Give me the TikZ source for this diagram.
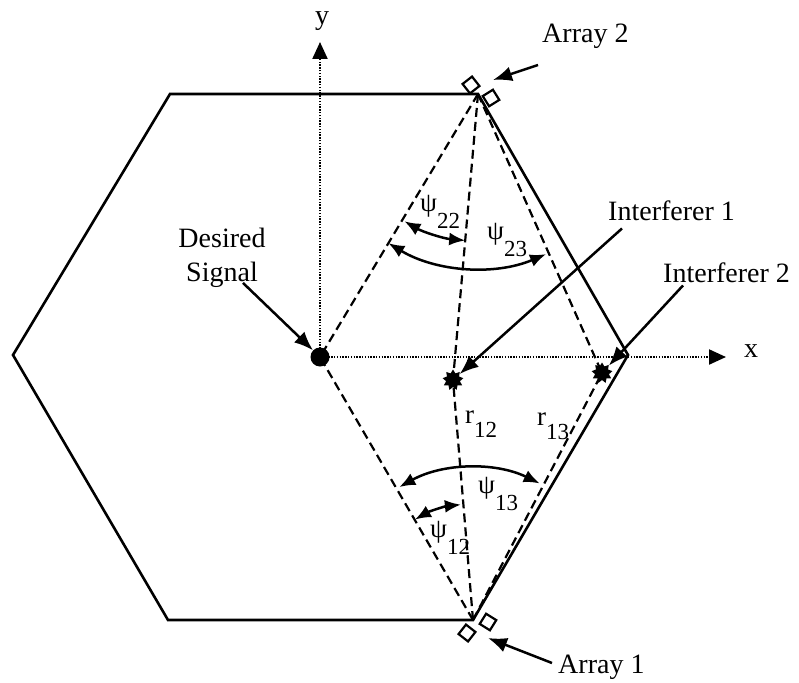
\documentclass[tikz,border=0pt]{standalone}
\usepackage{fontspec}
\setmainfont{Liberation Serif}
\usetikzlibrary{positioning,arrows.meta,shapes.geometric,calc}
\tikzset{
  hx-edge/.style={line width=2.6pt, line join=miter},
  hx-ray/.style={line width=2.2pt, dash pattern=on 9pt off 5pt},
  hx-axis/.style={line width=2.2pt, dash pattern=on 1.4pt off 1.4pt,
    -{Triangle[length=17pt,width=15pt]}},
  hx-ptr/.style={line width=2.5pt, -{Latex[length=19pt,width=15pt]}},
  hx-arc/.style={line width=2.5pt,
    {Latex[length=16pt,width=13pt]}-{Latex[length=16pt,width=13pt]}},
  hx-text/.style={font=\fontsize{28}{34}\selectfont, inner sep=0pt},
  hx-sym/.style={font=\fontsize{27}{30}\selectfont, inner sep=0pt, anchor=base west}
}
\newcommand{\symsub}[3][17pt]{#2\raisebox{-#1}{\fontsize{23}{23}\selectfont #3}}

\begin{document}
\begin{tikzpicture}[
  x=1pt, y=-1pt,
  src/.style={circle, fill, minimum size=19pt, inner sep=0pt},
  jam/.style={star, star points=9, star point ratio=1.5, fill,
    minimum size=21pt, inner sep=0pt},
  elem/.style={draw, line width=2.2pt, fill=white, minimum size=12pt, inner sep=0pt}
]
\useasboundingbox (0,0) rectangle (799,682);

% Cell corners
\coordinate (hL)  at (13,355);
\coordinate (hTL) at (170,94);
\coordinate (arr2) at (478,94);
\coordinate (hR)  at (628,355);
\coordinate (arr1) at (473,620);
\coordinate (hBL) at (168,620);
\draw[hx-edge] (hL) -- (hTL) -- (arr2) -- (hR) -- (arr1) -- (hBL) -- cycle;

% Sources
\node[src] (sig)  at (320,357) {};
\node[jam] (int1) at (453,380) {};
\node[jam] (int2) at (602,373) {};

% Axes
\coordinate (axy) at (320,42);
\coordinate (axx) at (726,357);
\draw[hx-axis] (sig.center) -- (axy);
\draw[hx-axis] (sig.center) -- (axx);
\node[hx-text, anchor=base] (ylab) at (322,25) {y};
\node[hx-text, anchor=base west] (xlab) at (744,357) {x};

% Paths from the arrays
\draw[hx-ray] (arr2) -- (sig.center);
\draw[hx-ray] (arr2) -- (int1.center);
\draw[hx-ray] (arr2) -- (int2.center);
\draw[hx-ray] (arr1) -- (sig.center);
\draw[hx-ray] (arr1) -- (int1.center);
\draw[hx-ray] (arr1) -- (int2.center);

% Array elements
\node[elem, rotate=38]  (arr2a) at (471,85) {};
\node[elem, rotate=32]  (arr2b) at (491,98) {};
\node[elem, rotate=-38] (arr1a) at (467,633) {};
\node[elem, rotate=-32] (arr1b) at (488,622) {};

% Angles
\draw[hx-arc] ($(arr2)+(120:147)$) arc[start angle=120, end angle=95, radius=147];
\draw[hx-arc] ($(arr2)+(121:174)$) arc[start angle=121, end angle=67, radius=174];
\draw[hx-arc] ($(arr1)+(-120:116)$) arc[start angle=-120, end angle=-96, radius=116];
\draw[hx-arc] ($(arr1)+(-119:152)$) arc[start angle=-119, end angle=-64, radius=152];
\node[hx-sym] (psi22) at (420,211) {\symsub{ψ}{22}};
\node[hx-sym] (psi23) at (487,239) {\symsub{ψ}{23}};
\node[hx-sym] (psi13) at (478,493) {\symsub{ψ}{13}};
\node[hx-sym] (psi12) at (430,537) {\symsub{ψ}{12}};
\node[hx-sym] (r12) at (465,423) {\symsub[14pt]{r}{12}};
\node[hx-sym] (r13) at (537,425) {\symsub[14pt]{r}{13}};

% Labels
\node[hx-text, align=center] (lsig) at (222,258) {Desired\\Signal};
\node[hx-text, anchor=base west] (lint1) at (608,220) {Interferer 1};
\node[hx-text, anchor=base west] (lint2) at (663,282) {Interferer 2};
\node[hx-text, anchor=base west] (larr2) at (542,43) {Array 2};
\node[hx-text, anchor=base west] (larr1) at (558,673) {Array 1};
\coordinate (arr2tip) at (493,80);
\coordinate (arr1tip) at (488,638);
\draw[hx-ptr] ($(lsig.south)+(21,-5)$) -- (sig);
\draw[hx-ptr] ($(lint1.south west)+(14,8)$) -- (int1);
\draw[hx-ptr] ($(lint2.south west)+(20,3)$) -- (int2);
\draw[hx-ptr] ($(larr2.base west)+(-4,22)$) -- (arr2tip);
\draw[hx-ptr] ($(larr1.base west)+(-6,-10)$) -- (arr1tip);
\end{tikzpicture}
\end{document}
